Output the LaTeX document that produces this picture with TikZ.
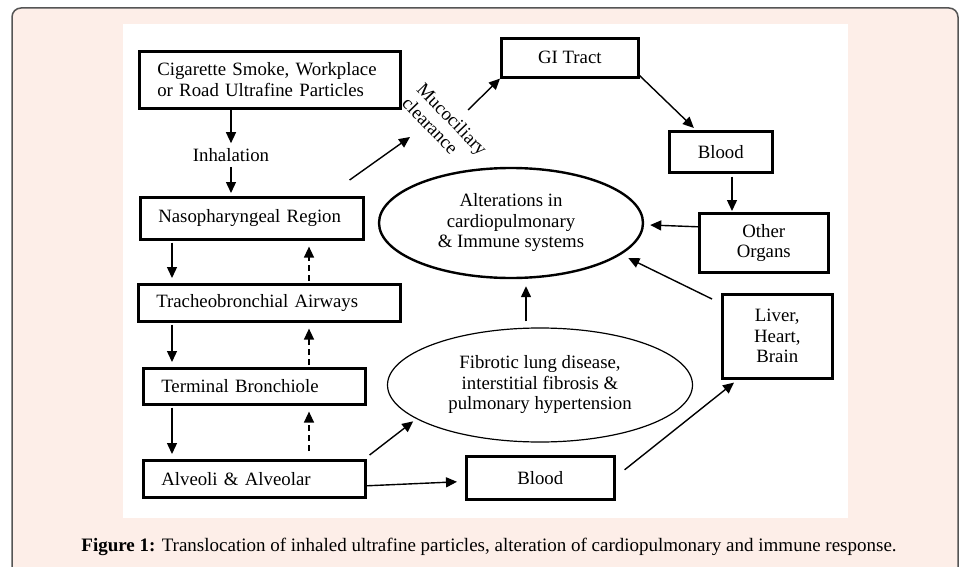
\documentclass[tikz,border=0pt]{standalone}
\usepackage{fontspec}
\setmainfont{Liberation Serif}
\usetikzlibrary{arrows.meta,shapes.geometric}

\begin{document}
\begin{tikzpicture}[x=1pt,y=-1pt,
    font=\fontsize{18.8}{20.5}\selectfont,
    >={Triangle[length=11pt,width=10pt]},
    stage/.style={draw, line width=2.6pt, anchor=north west, inner xsep=18pt, inner ysep=0pt, align=left},
    organ/.style={draw, line width=2.6pt, anchor=north west, inner sep=0pt, align=center},
    effect/.style={draw, ellipse, inner sep=0pt, align=center},
    flow/.style={->, line width=1.4pt},
    back/.style={->, line width=1.4pt, dash pattern=on 6pt off 4pt}]

      % Define colors
      \definecolor{panel}{RGB}{253,238,232}
      \definecolor{rim}{RGB}{85,85,85}

      % Panel and figure area
      \useasboundingbox (0,0) rectangle (963,567);
      \draw[rim, fill=panel, line width=1.5pt, rounded corners=9pt] (12,8) rectangle (958,620);
      \fill[white] (123,24) rectangle (848,518);

      % Respiratory tract (left column)
      \node[stage, text width=225pt, minimum height=57pt] (smoke) at (138,50) {Cigarette Smoke, Workplace\\or Road Ultrafine Particles};
      \node[inner sep=5pt] (inhal) at (231,155) {Inhalation};
      \node[stage, text width=187pt, minimum height=42pt] (naso) at (139,196) {Nasopharyngeal Region};
      \node[stage, text width=226pt, minimum height=37pt] (trach) at (137,283) {Tracheobronchial Airways};
      \node[stage, text width=186pt, minimum height=36pt] (term) at (142,367) {Terminal Bronchiole};
      \node[stage, text width=186pt, minimum height=37pt] (alv) at (142,459) {Alveoli \& Alveolar};

      % Organs
      \node[organ, minimum width=137pt, minimum height=39pt] (gi) at (500,37) {GI Tract};
      \node[organ, minimum width=103pt, minimum height=41pt] (blood1) at (668,130) {Blood};
      \node[organ, minimum width=129pt, minimum height=59pt] (other) at (698,212) {Other\\Organs};
      \node[organ, minimum width=110pt, minimum height=84pt] (liver) at (721,293) {Liver,\\Heart,\\Brain};
      \node[organ, minimum width=148pt, minimum height=43pt] (blood2) at (465,455) {Blood};

      % Effects
      \node[effect, line width=2.4pt, minimum width=264pt, minimum height=110pt] (alter) at (511,223) {Alterations in\\cardiopulmonary\\\& Immune systems};
      \node[effect, line width=1.2pt, minimum width=305pt, minimum height=114pt] (fibro) at (540,385) {Fibrotic lung disease,\\interstitial fibrosis \&\\pulmonary hypertension};

      % Mucociliary clearance label
      \node[rotate=-46, align=left, inner sep=0pt] (muco) at (445,126) {Mucociliary\\clearance};
      \coordinate (mucotip) at (410,137);
      \coordinate (mucoresume) at (468,110);

      % Inhalation path
      \draw[flow] (smoke.south -| inhal) -- (inhal.north);
      \draw[flow, shorten >=3pt] (inhal.south) -- (inhal.south |- naso.north);
      \draw[flow, shorten <=2pt, shorten >=5pt] ([xshift=33pt]naso.south west) -- ([xshift=35pt]trach.north west);
      \draw[flow, shorten <=2pt, shorten >=5pt] ([xshift=35pt]trach.south west) -- ([xshift=30pt]term.north west);
      \draw[flow, shorten <=2pt, shorten >=5pt] ([xshift=30pt]term.south west) -- ([xshift=30pt]alv.north west);

      % Clearance back up
      \draw[back, shorten <=2pt, shorten >=6pt] ([xshift=172pt]trach.north west) -- ([xshift=170pt]naso.south west);
      \draw[back, shorten <=2pt, shorten >=6pt] ([xshift=167pt]term.north west) -- ([xshift=172pt]trach.south west);
      \draw[back, shorten <=8pt, shorten >=6pt] ([xshift=167pt]alv.north west) -- ([xshift=167pt]term.south west);

      % Translocation
      \draw[flow] ([xshift=-15pt,yshift=16pt]naso.north east) -- (mucotip);
      \draw[flow] (mucoresume) -- (gi.south west);
      \draw[flow, shorten >=3pt] ([yshift=3pt]gi.south east) -- ([xshift=28pt]blood1.north west);
      \draw[flow, shorten <=3pt, shorten >=1pt] ([xshift=64pt]blood1.south west) -- ([xshift=34pt]other.north west);
      \draw[flow] ([yshift=16pt]other.west) -- ([xshift=6pt,yshift=-2pt]alter.east);
      \draw[flow, shorten >=8pt] ([xshift=-9pt,yshift=-6pt]liver.north west) -- (alter.-16);
      \draw[flow] ([xshift=9pt,yshift=8pt]blood2.east) -- ([xshift=13pt,yshift=-3pt]liver.south west);
      \draw[flow] ([xshift=3pt,yshift=4pt]alv.north east) -- ([xshift=-8pt]fibro.197);
      \draw[flow] ([yshift=-7pt]alv.east) -- ([xshift=-8pt,yshift=-4pt]blood2.west);
      \draw[flow] ([xshift=-14pt,yshift=6pt]fibro.north) -- ([xshift=15pt,yshift=-7pt]alter.south);

      % Caption
      \node[anchor=base, font=\fontsize{19}{21}\selectfont] (caption) at (489,551) {\textbf{Figure 1:} Translocation of inhaled ultrafine particles, alteration of cardiopulmonary and immune response.};

    \end{tikzpicture}
\end{document}
